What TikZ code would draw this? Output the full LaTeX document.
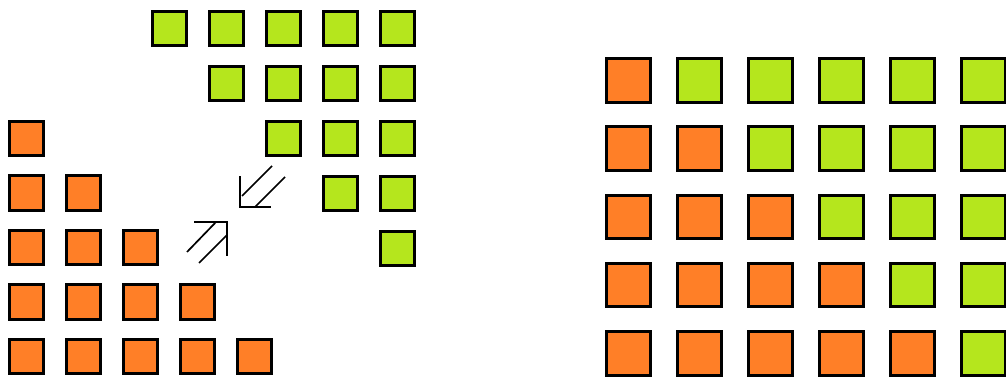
\documentclass[tikz,border=0pt]{standalone}
\definecolor{paintorange}{HTML}{FF7F27}
\definecolor{paintlime}{HTML}{B5E61D}
\tikzset{
  sq/.style={draw=black, line width=2.6pt, minimum size=34.5pt, inner sep=0pt, outer sep=0pt},
  bsq/.style={draw=black, line width=3pt, minimum size=43.5pt, inner sep=0pt, outer sep=0pt},
  og/.style={fill=paintorange},
  gr/.style={fill=paintlime},
  arr/.style={line width=1.7pt, line cap=butt}
}
\begin{document}
\begin{tikzpicture}[x=1pt,y=-1pt]
\useasboundingbox (0,0) rectangle (1006,377);
% left: green staircase
\foreach \r in {0,...,4}{
  \foreach \c in {\r,...,4}{
    \node[sq,gr] (g\r\c) at ({169.5+57*\c},{28.5+55*\r}) {};
  }
}
% left: orange staircase
\foreach \r in {0,...,4}{
  \foreach \c in {0,...,\r}{
    \node[sq,og] (o\r\c) at ({26.5+57*\c},{138.5+54.5*\r}) {};
  }
}
% arrows
\coordinate (a1h1) at (240,176);
\coordinate (a1c) at (240,207);
\coordinate (a1h2) at (271,207);
\coordinate (a1s1) at (272,166);
\coordinate (a1e1) at (242,196);
\coordinate (a1s2) at (285,177);
\coordinate (a1e2) at (255,207);
\draw[arr] (a1h1) -- (a1c) -- (a1h2);
\draw[arr] (a1s1) -- (a1e1);
\draw[arr] (a1s2) -- (a1e2);
\coordinate (a2h1) at (194,222);
\coordinate (a2c) at (227,222);
\coordinate (a2h2) at (227,256);
\coordinate (a2s1) at (187,252);
\coordinate (a2e1) at (216,222);
\coordinate (a2s2) at (199,263);
\coordinate (a2e2) at (227,235);
\draw[arr] (a2h1) -- (a2c) -- (a2h2);
\draw[arr] (a2s1) -- (a2e1);
\draw[arr] (a2s2) -- (a2e2);
% right grid
\foreach \r in {0,...,4}{
  \foreach \c in {0,...,5}{
    \ifnum\c>\r
      \node[bsq,gr] (b\r\c) at ({628.3+71*\c},{80.3+68.3*\r}) {};
    \else
      \node[bsq,og] (b\r\c) at ({628.3+71*\c},{80.3+68.3*\r}) {};
    \fi
  }
}
\end{tikzpicture}
\end{document}
